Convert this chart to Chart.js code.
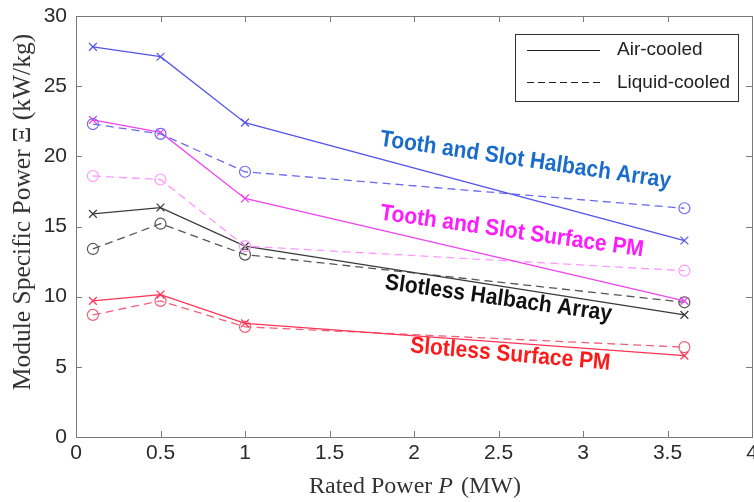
<!DOCTYPE html>
<html>
<head>
<meta charset="utf-8">
<script src="https://cdn.jsdelivr.net/npm/chart.js@4"></script>
<style>
html,body{margin:0;padding:0;background:#fff;}
#wrap{width:754px;height:502px;}
</style>
</head>
<body>
<div id="wrap"><canvas id="c" width="754" height="502"></canvas></div>
<script>
// ---- data ----
const ratedPower = [0.1, 0.5, 1, 3.6];
const tsHalbachAir    = [27.8, 27.1, 22.4, 14.0];
const tsHalbachLiquid = [22.3, 21.6, 18.9, 16.3];
const tsSurfaceAir    = [22.6, 21.7, 17.0, 9.7];
const tsSurfaceLiquid = [18.6, 18.35, 13.6, 11.85];
const slHalbachAir    = [15.9, 16.35, 13.6, 8.7];
const slHalbachLiquid = [13.4, 15.2, 13.0, 9.6];
const slSurfaceAir    = [9.7, 10.15, 8.1, 5.8];
const slSurfaceLiquid = [8.7, 9.7, 7.85, 6.4];
const xTicks = [0, 0.5, 1, 1.5, 2, 2.5, 3, 3.5, 4];
const xTickLabels = ['0', '0.5', '1', '1.5', '2', '2.5', '3', '3.5', '4'];
const yTicks = [0, 5, 10, 15, 20, 25, 30];
const yTickLabels = ['0', '5', '10', '15', '20', '25', '30'];
const legendLabels = ['Air-cooled', 'Liquid-cooled'];
const xTitle = ['Rated Power ', 'P', ' (MW)'];
const yTitle = 'Module Specific Power \u039E (kW/kg)';
const annotations = [
  {text: 'Tooth and Slot Halbach Array', x: 2.66, y: 19.71, color: '#1a6ccc', angle: 8.3},
  {text: 'Tooth and Slot Surface PM', x: 2.58, y: 14.64, color: '#ff1aff', angle: 8},
  {text: 'Slotless Halbach Array', x: 2.50, y: 9.86, color: '#111111', angle: 8},
  {text: 'Slotless Surface PM', x: 2.57, y: 5.86, color: '#ff1a1a', angle: 5}
];

const pts = arr => arr.map((v, i) => ({x: ratedPower[i], y: v}));
function ds(data, color, liquid) {
  return {
    data: pts(data),
    borderColor: color,
    backgroundColor: 'rgba(0,0,0,0)',
    borderWidth: 1.3,
    borderDash: liquid ? [8, 5] : [],
    pointStyle: liquid ? 'circle' : 'crossRot',
    pointRadius: 5.5,
    pointBorderWidth: 1.2,
    pointBorderColor: color,
    pointBackgroundColor: 'rgba(0,0,0,0)',
    tension: 0,
    fill: false
  };
}

const SANS = '"Liberation Sans", Arial, sans-serif';
const SERIF = '"Liberation Serif", "DejaVu Serif", serif';

const frame = {
  id: 'frame',
  afterDraw(chart) {
    const {ctx, chartArea: a, scales: {x, y}} = chart;
    ctx.save();
    ctx.strokeStyle = '#7a7a7a';
    ctx.lineWidth = 1;
    ctx.strokeRect(a.left + 0.5, a.top + 0.5, a.right - a.left, a.bottom - a.top);
    ctx.beginPath();
    const tl = 6;
    xTicks.forEach(v => {
      const px = Math.round(x.getPixelForValue(v)) + 0.5;
      ctx.moveTo(px, a.bottom); ctx.lineTo(px, a.bottom - tl);
      ctx.moveTo(px, a.top); ctx.lineTo(px, a.top + tl);
    });
    yTicks.forEach(v => {
      const py = Math.round(y.getPixelForValue(v)) + 0.5;
      ctx.moveTo(a.left, py); ctx.lineTo(a.left + tl, py);
      ctx.moveTo(a.right, py); ctx.lineTo(a.right - tl, py);
    });
    ctx.stroke();

    // tick labels
    ctx.fillStyle = '#2a2a2a';
    ctx.font = '21px ' + SANS;
    ctx.textAlign = 'center';
    ctx.textBaseline = 'middle';
    xTicks.forEach((v, i) => ctx.fillText(xTickLabels[i], x.getPixelForValue(v), a.bottom + 16));
    ctx.textAlign = 'right';
    yTicks.forEach((v, i) => ctx.fillText(yTickLabels[i], a.left - 9, y.getPixelForValue(v)));

    // annotations
    annotations.forEach(an => {
      ctx.save();
      ctx.translate(x.getPixelForValue(an.x), y.getPixelForValue(an.y));
      ctx.rotate(an.angle * Math.PI / 180);
      ctx.scale(1, 1.1);
      ctx.fillStyle = an.color;
      ctx.font = 'bold 21px ' + SANS;
      ctx.textAlign = 'center';
      ctx.textBaseline = 'middle';
      ctx.fillText(an.text, 0, 0);
      ctx.restore();
    });

    // legend box
    const lx = 515, ly = 34, lw = 223, lh = 67;
    ctx.fillStyle = '#ffffff';
    ctx.fillRect(lx, ly, lw, lh);
    ctx.strokeStyle = '#333';
    ctx.strokeRect(lx + 0.5, ly + 0.5, lw, lh);
    ctx.strokeStyle = '#222';
    ctx.lineWidth = 1.2;
    ctx.beginPath(); ctx.setLineDash([]);
    ctx.moveTo(527, 50.5); ctx.lineTo(600, 50.5); ctx.stroke();
    ctx.beginPath(); ctx.setLineDash([7, 4]);
    ctx.moveTo(527, 82.5); ctx.lineTo(600, 82.5); ctx.stroke();
    ctx.setLineDash([]);
    ctx.fillStyle = '#222';
    ctx.font = '19px ' + SANS;
    ctx.textAlign = 'left';
    ctx.textBaseline = 'middle';
    ctx.fillText(legendLabels[0], 617, 50);
    ctx.fillText(legendLabels[1], 617, 83);

    // axis titles
    ctx.fillStyle = '#333';
    ctx.textBaseline = 'middle';
    const fN = '24px ' + SERIF, fI = 'italic 24px ' + SERIF;
    ctx.font = fN;
    const w1 = ctx.measureText(xTitle[0]).width, w3 = ctx.measureText(xTitle[2]).width;
    ctx.font = fI;
    const w2 = ctx.measureText(xTitle[1]).width;
    const sx = 415 - (w1 + w2 + w3 + 2) / 2;
    const ty = 487;
    ctx.textAlign = 'left';
    ctx.font = fN; ctx.fillText(xTitle[0], sx, ty);
    ctx.font = fI; ctx.fillText(xTitle[1], sx + w1, ty);
    ctx.font = fN; ctx.fillText(xTitle[2], sx + w1 + w2 + 2, ty);
    // y title
    ctx.save();
    ctx.translate(23, 212);
    ctx.rotate(-Math.PI / 2);
    ctx.textAlign = 'center';
    ctx.font = '25.5px ' + SERIF;
    ctx.fillText(yTitle, 0, 0);
    ctx.restore();
    ctx.restore();
  }
};

new Chart(document.getElementById('c'), {
  type: 'line',
  data: {
    datasets: [
      ds(tsHalbachAir, '#5454ea', false),
      ds(tsHalbachLiquid, '#6a6af0', true),
      ds(tsSurfaceAir, '#f044f0', false),
      ds(tsSurfaceLiquid, '#ff99ff', true),
      ds(slHalbachAir, '#3a3a3a', false),
      ds(slHalbachLiquid, '#555555', true),
      ds(slSurfaceAir, '#ff3355', false),
      ds(slSurfaceLiquid, '#f0607a', true)
    ]
  },
  options: {
    responsive: false,
    animation: false,
    layout: {autoPadding: false, padding: {left: 0, right: 2, top: 16, bottom: 0}},
    plugins: {legend: {display: false}, tooltip: {enabled: false}},
    scales: {
      x: {
        type: 'linear', min: 0, max: 4,
        afterBuildTicks: s => { s.ticks = xTicks.map(v => ({value: v})); },
        afterFit: s => { s.height = 65; },
        grid: {display: false, drawTicks: false},
        border: {display: false},
        ticks: {display: false}
      },
      y: {
        type: 'linear', min: 0, max: 30,
        afterBuildTicks: s => { s.ticks = yTicks.map(v => ({value: v})); },
        afterFit: s => { s.width = 76; },
        grid: {display: false, drawTicks: false},
        border: {display: false},
        ticks: {display: false}
      }
    }
  },
  plugins: [frame]
});
</script>
</body>
</html>
